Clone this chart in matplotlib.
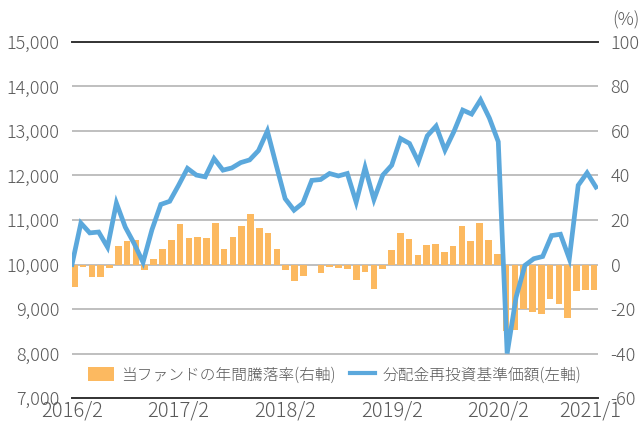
import numpy as np
import matplotlib.pyplot as plt
from matplotlib.patches import Patch
from matplotlib.lines import Line2D

plt.rcParams['font.family'] = ['Noto Sans CJK JP', 'DejaVu Sans']
plt.rcParams['font.weight'] = 'light'

# 分配金再投資基準価額 (左軸), 2016/2 - 2021/1
nav = [10000, 10930, 10710, 10730, 10390, 11380, 10840, 10470, 10050, 10780,
       11350, 11420, 11780, 12160, 12010, 11970, 12380, 12120, 12170, 12290,
       12350, 12560, 13000, 12230, 11480, 11220, 11380, 11890, 11910, 12045,
       11990, 12045, 11400, 12180, 11460, 12010, 12230, 12830, 12720, 12310,
       12890, 13110, 12570, 12985, 13470, 13380, 13700, 13290, 12760, 8000,
       9260, 9980, 10130, 10180, 10650, 10680, 10130, 11780, 12060, 11740]

# 当ファンドの年間騰落率 (右軸, %)
ret = [-10.2, -1.2, -5.7, -5.7, -1.7, 8.1, 10.4, 11.1, -2.4, 2.3,
       6.8, 10.8, 18.0, 11.7, 12.2, 11.7, 18.5, 6.8, 12.2, 17.1,
       22.6, 16.2, 14.0, 7.1, -2.4, -7.5, -5.3, -0.3, -3.9, -0.9,
       -1.7, -2.1, -6.9, -3.5, -11.0, -2.1, 6.3, 14.0, 11.6, 4.1,
       8.6, 9.0, 5.4, 8.1, 17.1, 10.4, 18.5, 10.8, 4.5, -30.0,
       -29.3, -20.0, -21.5, -22.3, -15.6, -17.7, -24.2, -12.0, -11.4, -11.4]

tick_pos = [0, 12, 24, 36, 48, 58.4]
tick_lab = ['2016/2', '2017/2', '2018/2', '2019/2', '2020/2', '2021/1']

left_ticks = np.arange(7000, 15001, 1000)
right_ticks = np.arange(-60, 101, 20)

grey = '#595959'
orange = '#FCB960'
blue = '#5BA8DC'

x = np.arange(len(nav))
fig = plt.figure(figsize=(6.44, 4.23), dpi=100)
rect = [72/644, 25/423, 526/644, 356/423]

# bars (right axis), drawn underneath
axb = fig.add_axes(rect)
axb.bar(x, ret, width=0.75, color=orange, zorder=2)
axb.set_xlim(-0.26, 59.44)
axb.set_ylim(-60, 100)
axb.set_yticks(right_ticks)
axb.set_yticklabels([str(v) for v in right_ticks])
axb.yaxis.tick_right()
axb.tick_params(axis='y', length=0, pad=9, labelsize=13, labelcolor=grey)
axb.set_xticks([])
axb.grid(axis='y', color='#B4B4B4', linewidth=1.2, zorder=0)
axb.set_axisbelow(True)
for s in axb.spines.values():
    s.set_visible(False)

# line (left axis), on top
ax = fig.add_axes(rect)
ax.patch.set_visible(False)
ax.plot(x, nav, color=blue, linewidth=3.4, solid_joinstyle='miter', zorder=3)
ax.set_xlim(0, 59.23)
ax.set_ylim(7000, 15000)
ax.set_yticks(left_ticks)
ax.set_yticklabels(['{:,}'.format(v) for v in left_ticks])
ax.tick_params(axis='y', length=0, pad=9, labelsize=13, labelcolor=grey)
ax.set_xticks(tick_pos)
ax.set_xticklabels(tick_lab)
ax.tick_params(axis='x', length=0, pad=1.5, labelsize=14.5, labelcolor=grey)
for s in ['left', 'right']:
    ax.spines[s].set_visible(False)
for s in ['top', 'bottom']:
    ax.spines[s].set_color('#333333')
    ax.spines[s].set_linewidth(1.4)

fig.text(0.972, 0.952, '(%)', ha='center', va='center', fontsize=13, color=grey)

handles = [Patch(facecolor=orange, edgecolor='none'),
           Line2D([0], [0], color=blue, linewidth=3)]
labels = ['当ファンドの年間騰落率(右軸)', '分配金再投資基準価額(左軸)']
fig.legend(handles, labels, loc='center left', bbox_to_anchor=(88/644, 1 - 375/423),
           ncol=2, frameon=False, fontsize=11.3, labelcolor=grey,
           handlelength=1.65, handleheight=1.05, handletextpad=0.45,
           columnspacing=0.9, borderpad=0, borderaxespad=0)

plt.savefig('out.png', dpi=100)
